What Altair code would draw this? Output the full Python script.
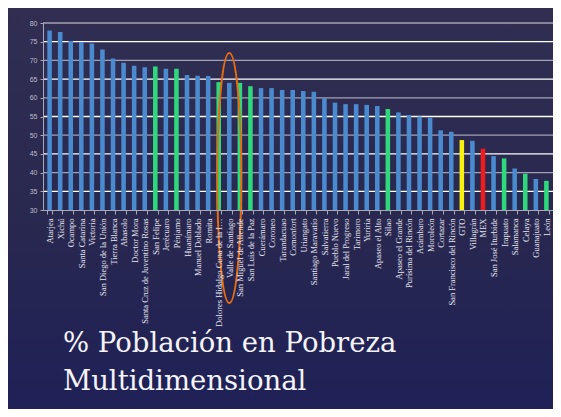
import altair as alt
import pandas as pd

municipios = ["Atarjea", "Xichú", "Ocampo", "Santa Catarina", "Victoria",
              "San Diego de la Unión", "Tierra Blanca", "Abasolo", "Doctor Mora",
              "Santa Cruz de Juventino Rosas", "San Felipe", "Jerécuaro", "Pénjamo",
              "Huanímaro", "Manuel Doblado", "Romita",
              "Dolores Hidalgo Cuna de la Independencia", "Valle de Santiago",
              "San Miguel de Allende", "San Luis de la Paz", "Cuerámaro", "Coroneo",
              "Tarandacuao", "Comonfort", "Uriangato", "Santiago Maravatío",
              "Salvatierra", "Pueblo Nuevo", "Jaral del Progreso", "Tarimoro",
              "Yuriria", "Apaseo el Alto", "Silao", "Apaseo el Grande",
              "Purísima del Rincón", "Acámbaro", "Moroleón", "Cortazar",
              "San Francisco del Rincón", "GTO", "Villagrán", "MEX",
              "San José Iturbide", "Irapuato", "Salamanca", "Celaya",
              "Guanajuato", "León"]

pobreza = [78.0, 77.6, 75.2, 74.9, 74.5, 72.9, 70.5, 69.4, 68.6, 68.2,
           68.4, 67.8, 67.8, 66.1, 65.9, 65.8, 64.2, 64.0, 64.0, 63.1,
           62.6, 62.6, 62.1, 62.1, 61.8, 61.6, 59.9, 58.7, 58.3, 58.3,
           58.1, 57.8, 57.0, 56.1, 55.4, 55.0, 54.7, 51.3, 50.9, 48.7,
           48.5, 46.4, 44.4, 43.8, 41.1, 39.7, 38.3, 37.8]

verdes = ["San Felipe", "Pénjamo", "Dolores Hidalgo Cuna de la Independencia",
          "San Miguel de Allende", "San Luis de la Paz", "Silao", "Irapuato",
          "Celaya", "León"]
estado = "GTO"
pais = "MEX"
resaltado = "Valle de Santiago"

y_ticks = [30, 35, 40, 45, 50, 55, 60, 65, 70, 75, 80]
grid_vals = [35, 40, 45, 50, 55, 60, 65, 70, 75, 80]

titulo = ["% Población en Pobreza", "Multidimensional"]


def grupo(m):
    if m in verdes:
        return "verde"
    if m == estado:
        return "estado"
    if m == pais:
        return "pais"
    return "municipio"


df = pd.DataFrame({"municipio": municipios, "pobreza": pobreza})
df["grupo"] = [grupo(m) for m in municipios]

grid_df = pd.DataFrame({"v": grid_vals})
grid_df["c"] = ["#a3a2b4" if v % 10 == 0 else "#ffffff" for v in grid_vals]

one = pd.DataFrame({"k": [0]})

W, H = 510, 187
PL, PT, PR, PB = 35, 15, 0, 199

yscale = alt.Scale(domain=[30, 80], nice=False, zero=False)
yaxis = alt.Axis(values=y_ticks, title=None, grid=False, labelFont="Liberation Sans",
                 labelFontSize=7, labelColor="#bcbccb", labelPadding=3, tickSize=3,
                 tickColor="#a8a8b8", domainColor="#a8a8b8", zindex=1)

x_enc = alt.X("municipio:N", sort=municipios,
              scale=alt.Scale(paddingInner=0.57, paddingOuter=0.41),
              axis=alt.Axis(title=None, labelAngle=270, labelFont="Liberation Serif",
                            labelFontSize=8.5, labelColor="#e8e8f2", labelLimit=112,
                            labelPadding=4, tickBand="extent", tickSize=4,
                            tickColor="#a8a8b8", domainColor="#a8a8b8", grid=False,
                            zindex=1))

bg = alt.Chart(one).mark_rect(
    fill=alt.LinearGradient(
        gradient="linear", x1=0, y1=0, x2=0, y2=1,
        stops=[alt.GradientStop(color="#312e52", offset=0),
               alt.GradientStop(color="#29284f", offset=0.5),
               alt.GradientStop(color="#1f2157", offset=1)])
).encode(x=alt.value(-PL), x2=alt.value(W + PR), y=alt.value(-PT), y2=alt.value(H + PB))

grid = alt.Chart(grid_df).mark_rule(strokeWidth=1.3).encode(
    y=alt.Y("v:Q", scale=yscale, axis=yaxis),
    color=alt.Color("c:N", scale=None),
)

bars = alt.Chart(df).mark_bar().encode(
    x=x_enc,
    y=alt.Y("pobreza:Q", scale=yscale, axis=yaxis),
    y2=alt.datum(30),
    color=alt.Color("grupo:N", legend=None,
                    scale=alt.Scale(domain=["municipio", "verde", "estado", "pais"],
                                    range=["#4a8bd0", "#2fd87c", "#f8f010", "#ee1c1c"])),
)

a = 0.096
k = 0.5523
ell = (f"M0,-1 C{a*k:.4f},-1 {a},-{k} {a},0 C{a},{k} {a*k:.4f},1 0,1 "
       f"C-{a*k:.4f},1 -{a},{k} -{a},0 C-{a},-{k} -{a*k:.4f},-1 0,-1 Z")

ellipse = alt.Chart(df).transform_filter(
    alt.datum.municipio == resaltado
).mark_point(shape=ell, size=62500, filled=False, stroke="#e46c12",
             strokeWidth=2, opacity=1, dx=1).encode(
    x=x_enc,
    y=alt.value(155),
)

title = alt.Chart(one).mark_text(
    text=titulo, align="left", baseline="alphabetic", font="DejaVu Serif",
    fontSize=27.5, color="#f4f4f8", lineHeight=38
).encode(x=alt.value(20), y=alt.value(329))

chart = alt.layer(bg, grid, bars, ellipse, title).properties(
    width=W, height=H,
    padding={"left": PL, "top": PT, "right": PR, "bottom": PB},
    autosize=alt.AutoSizeParams(type="none"),
    background="#29284f",
).configure_view(strokeWidth=0)

chart.save("out.html", embed_options={"renderer": "svg", "actions": False})
